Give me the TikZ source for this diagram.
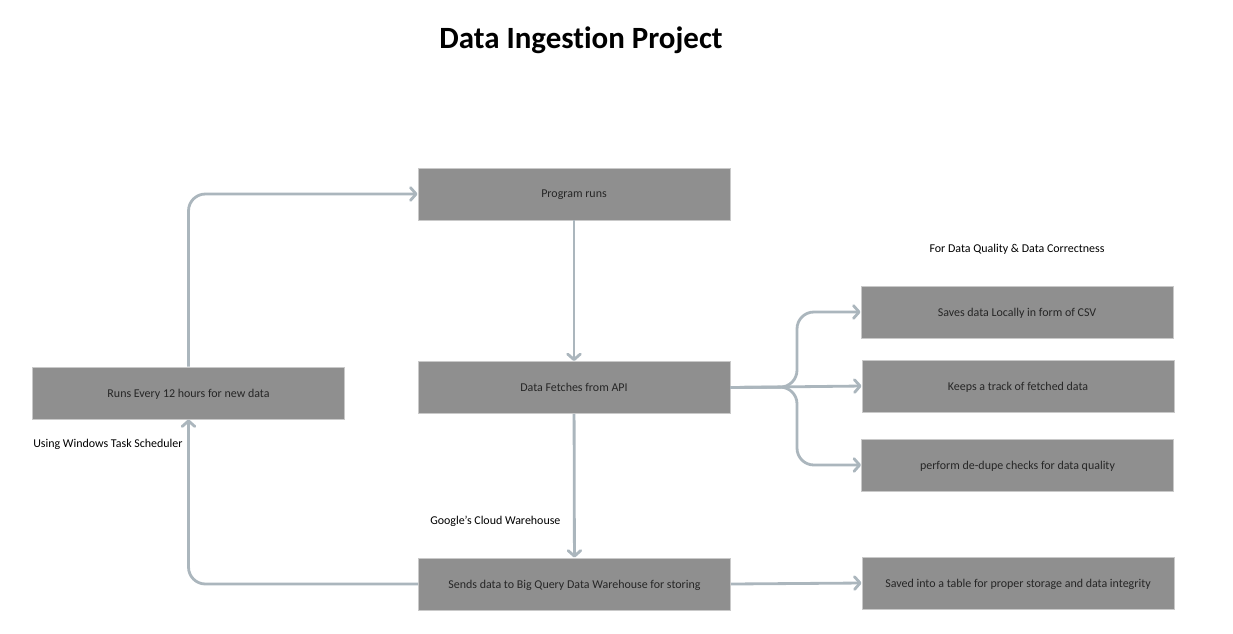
\documentclass[tikz,border=0pt]{standalone}
\usepackage{fontspec}
\setmainfont{Carlito}[Ligatures=NoCommon]
\usetikzlibrary{arrows.meta,
                positioning}
\definecolor{boxfill}{HTML}{8F8F8F}
\definecolor{boxline}{HTML}{C9C9C9}
\definecolor{linkcol}{HTML}{ABB6BD}
\definecolor{boxtext}{HTML}{262626}

\begin{document}
\begin{tikzpicture}[
x=0.025cm, y=-0.025cm,
     base/.style = {draw=boxline, line width=0.6pt, fill=boxfill,
                    minimum width=7.8cm, minimum height=1.3cm, text depth=0pt,
                    align=center, text=boxtext, font=\fontsize{8.5}{10}\selectfont},
  process/.style = {base},
     note/.style = {font=\fontsize{8.5}{10}\selectfont, inner sep=0pt},
    arrow/.style = {-{Straight Barb[length=4pt, width=9pt, round]},
                    draw=linkcol, line width=2pt, rounded corners=12}
                    ]
\useasboundingbox (0,0) rectangle (1233,633);
% title
\node (title) at (581,40) {\fontsize{22}{26}\selectfont\bfseries Data Ingestion Project};
 % main column
\node (prog)  [process] at (574,194)   {Program runs};
\node (fetch) [process] at (574,387.5) {Data Fetches from API};
\node (sends) [process] at (574.5,584) {Sends data to Big Query Data Warehouse for storing};
% left
\node (runs)  [process] at (188.5,393) {Runs Every 12 hours for new data};
% right
\node (saves) [process] at (1017,312)   {Saves data Locally in form of CSV};
\node (keeps) [process] at (1018,386)   {Keeps a track of fetched data};
\node (dedup) [process] at (1017.5,465) {perform de-dupe checks for data quality};
\node (table) [process] at (1018,583)   {Saved into a table for proper storage and data integrity};
% notes
\node (sched) [note, anchor=west] at (33,444)  {Using Windows Task Scheduler};
\node (cloud) [note, anchor=west] at (430,521) {Google's Cloud Warehouse};
\node (qual)  [note] at (1017,249) {For Data Quality \& Data Correctness};
% coordinates
\coordinate (fork) at (797,387);

\draw [arrow] (runs.north) |- (prog.west);
\draw [arrow] (prog) -- (fetch);
\draw [arrow] (fetch) -- (sends);
\draw [arrow] (sends.west) -| (runs.south);
\draw [arrow] (sends.east) -- (table.west);
%
\draw [arrow] (fetch.east) -- (fork) |- (saves.west);
\draw [arrow] (fetch.east) -- (keeps.west);
\draw [arrow] (fetch.east) -- (fork) |- (dedup.west);
\end{tikzpicture}
\end{document}
